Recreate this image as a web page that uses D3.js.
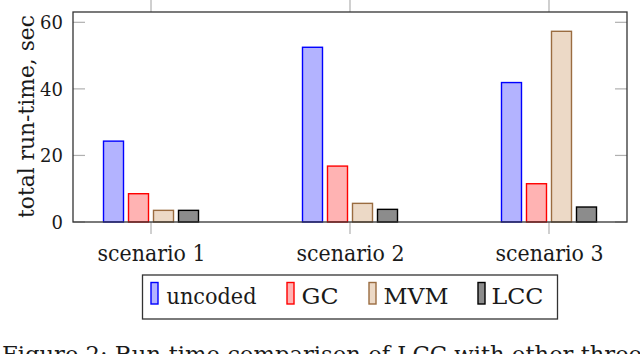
<!DOCTYPE html>
<html>
<head>
<meta charset="utf-8">
<script src="https://cdn.jsdelivr.net/npm/d3@7"></script>
<style>
  html, body { margin: 0; padding: 0; background: #fff; }
  svg { display: block; }
  svg text { font-family: "DejaVu Serif", "Liberation Serif", serif !important; }
</style>
</head>
<body>
<svg id="chart" width="640" height="354"></svg>
<script>
const categories = ["scenario 1", "scenario 2", "scenario 3"];
const seriesNames = ["uncoded", "GC", "MVM", "LCC"];
const uncoded = [24.3, 52.5, 41.9];
const gc = [8.5, 16.8, 11.5];
const mvm = [3.5, 5.6, 57.3];
const lcc = [3.5, 3.8, 4.5];
const yTicks = [0, 20, 40, 60];
const fills = ["#b3b3ff", "#ffb3b3", "#ecd9c6", "#8c8c8c"];
const strokes = ["#0000ff", "#ff0000", "#9a6c40", "#000000"];
const caption = "Figure 2: Run-time comparison of LCC with other three";

const values = [uncoded, gc, mvm, lcc];
const svg = d3.select("#chart");

const pLeft = 73, pRight = 627, pTop = 12, pBottom = 222;
const x = d3.scalePoint().domain(categories).range([pLeft, pRight]).padding(0.392);
const xs = d3.scaleBand().domain(seriesNames).range([-50, 50]).paddingInner(0.2).paddingOuter(0.1);
const y = d3.scaleLinear().domain([0, 63.1]).range([pBottom, pTop]);

// x ticks (outside, top and bottom)
const tickColor = "#b0b0b0";
categories.forEach(c => {
  svg.append("line").attr("x1", x(c)).attr("x2", x(c)).attr("y1", pBottom).attr("y2", pBottom + 12)
    .attr("stroke", tickColor).attr("stroke-width", 1.2);
  svg.append("line").attr("x1", x(c)).attr("x2", x(c)).attr("y1", 0).attr("y2", pTop)
    .attr("stroke", tickColor).attr("stroke-width", 1.2);
});
// y ticks (inside, both sides)
yTicks.forEach(t => {
  svg.append("line").attr("x1", pLeft).attr("x2", pLeft + 12).attr("y1", y(t)).attr("y2", y(t))
    .attr("stroke", tickColor).attr("stroke-width", 1.2);
  svg.append("line").attr("x1", pRight - 12).attr("x2", pRight).attr("y1", y(t)).attr("y2", y(t))
    .attr("stroke", tickColor).attr("stroke-width", 1.2);
});

// bars
seriesNames.forEach((s, si) => {
  svg.append("g").selectAll("rect").data(categories).join("rect")
    .attr("x", c => x(c) + xs(s))
    .attr("y", (c, i) => y(values[si][i]))
    .attr("width", xs.bandwidth())
    .attr("height", (c, i) => y(0) - y(values[si][i]))
    .attr("fill", fills[si])
    .attr("stroke", strokes[si])
    .attr("stroke-width", 1.4);
});

// frame
svg.append("rect").attr("x", pLeft).attr("y", pTop).attr("width", pRight - pLeft).attr("height", pBottom - pTop)
  .attr("fill", "none").attr("stroke", "#333").attr("stroke-width", 1.3);

// y tick labels
const yAxis = d3.axisLeft(y).tickValues(yTicks).tickSize(0).tickPadding(10);
const gy = svg.append("g").attr("transform", `translate(${pLeft},0)`).call(yAxis)
  .attr("font-size", 18);
gy.select(".domain").remove();
gy.selectAll("text").attr("fill", "#1a1a1a").attr("dy", "0.35em");

// x tick labels
const xAxis = d3.axisBottom(x).tickSize(0).tickPadding(0);
const gx = svg.append("g").attr("transform", `translate(0,${pBottom})`).call(xAxis)
  .attr("font-size", 22);
gx.select(".domain").remove();
gx.selectAll("text").attr("fill", "#1a1a1a")
  .attr("y", 39).attr("dy", 0)
  .attr("textLength", 108).attr("lengthAdjust", "spacingAndGlyphs");

// y axis label
svg.append("text").attr("transform", "translate(34,116.5) rotate(-90)")
  .attr("text-anchor", "middle").attr("font-size", 22).attr("fill", "#1a1a1a")
  .attr("textLength", 203).attr("lengthAdjust", "spacingAndGlyphs")
  .text("total run-time, sec");

// legend
const legend = svg.append("g");
legend.append("rect").attr("x", 142.5).attr("y", 275).attr("width", 415).attr("height", 44)
  .attr("fill", "#fff").attr("stroke", "#333").attr("stroke-width", 1.3);
const swX = [151, 287, 369, 478];
const txX = [166.5, 301.5, 383.5, 491.5];
const txW = [90, 37, 65, 52];
seriesNames.forEach((s, i) => {
  legend.append("rect").attr("x", swX[i]).attr("y", 282.5).attr("width", 7).attr("height", 21.5)
    .attr("fill", fills[i]).attr("stroke", strokes[i]).attr("stroke-width", 1.4);
  legend.append("text").attr("x", txX[i]).attr("y", 304).attr("font-size", 22).attr("fill", "#1a1a1a")
    .attr("textLength", txW[i]).attr("lengthAdjust", "spacingAndGlyphs").text(s);
});

// caption (cut off at bottom, as in the reference)
svg.append("text").attr("x", 2).attr("y", 362).attr("font-size", 22).attr("fill", "#1a1a1a")
  .attr("textLength", 640).attr("lengthAdjust", "spacingAndGlyphs").text(caption);
</script>
</body>
</html>
